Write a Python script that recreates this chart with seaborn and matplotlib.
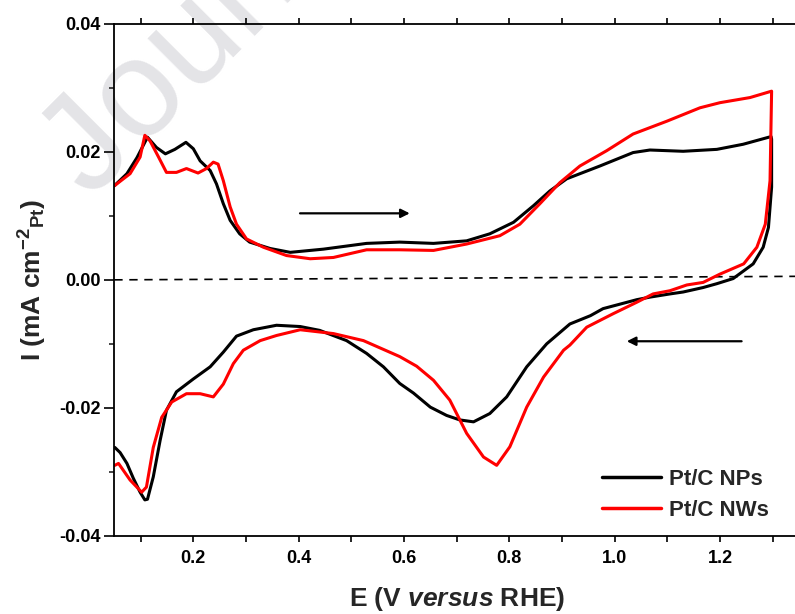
import numpy as np
import pandas as pd
import matplotlib
matplotlib.use("Agg")
import matplotlib.pyplot as plt
import seaborn as sns
from matplotlib.ticker import FixedLocator, FixedFormatter, MultipleLocator

# ---------------- data ----------------
np_fwd_E = [0.050, 0.074, 0.093, 0.113, 0.130, 0.147, 0.165, 0.186, 0.200, 0.213, 0.232, 0.244,
            0.257, 0.270, 0.288, 0.307, 0.346, 0.384, 0.447, 0.529, 0.592, 0.656, 0.719, 0.763,
            0.808, 0.846, 0.877, 0.909, 0.972, 1.035, 1.067, 1.130, 1.194, 1.244, 1.297]
np_fwd_I = [0.0147, 0.0166, 0.0191, 0.0223, 0.0207, 0.0197, 0.0204, 0.0215, 0.0205, 0.0186, 0.0171, 0.0150,
            0.0119, 0.0093, 0.0072, 0.0059, 0.0049, 0.0043, 0.0048, 0.0057, 0.0059, 0.0057, 0.0061, 0.0072,
            0.0090, 0.0116, 0.0139, 0.0158, 0.0178, 0.0199, 0.0203, 0.0201, 0.0204, 0.0212, 0.0224]
np_rev_E = [1.298, 1.298, 1.292, 1.282, 1.263, 1.225, 1.194, 1.168, 1.130, 1.105, 1.067, 1.042,
            0.978, 0.954, 0.915, 0.871, 0.833, 0.795, 0.763, 0.732, 0.706, 0.681, 0.650, 0.618,
            0.592, 0.561, 0.529, 0.491, 0.440, 0.403, 0.358, 0.314, 0.282, 0.257, 0.232, 0.200,
            0.168, 0.149, 0.137, 0.124, 0.113, 0.108, 0.099, 0.086, 0.074, 0.061, 0.051]
np_rev_I = [0.0220, 0.0145, 0.0082, 0.0051, 0.0025, 0.0002, -0.0006, -0.0012, -0.0019, -0.0022, -0.0027, -0.0031,
            -0.0045, -0.0056, -0.0069, -0.0100, -0.0136, -0.0183, -0.0209, -0.0222, -0.0219, -0.0212, -0.0199, -0.0177,
            -0.0162, -0.0136, -0.0115, -0.0095, -0.0079, -0.0073, -0.0071, -0.0078, -0.0088, -0.0113, -0.0136, -0.0155,
            -0.0175, -0.0204, -0.0251, -0.0308, -0.0343, -0.0344, -0.0332, -0.0310, -0.0287, -0.0270, -0.0262]

nw_fwd_E = [0.050, 0.080, 0.099, 0.108, 0.118, 0.134, 0.149, 0.168, 0.187, 0.209, 0.225, 0.238,
            0.247, 0.257, 0.270, 0.282, 0.301, 0.333, 0.377, 0.422, 0.466, 0.529, 0.592, 0.656,
            0.719, 0.782, 0.820, 0.858, 0.896, 0.934, 0.985, 1.035, 1.099, 1.162, 1.200, 1.257, 1.298]
nw_fwd_I = [0.0147, 0.0166, 0.0192, 0.0226, 0.0217, 0.0192, 0.0168, 0.0168, 0.0174, 0.0167, 0.0174, 0.0184,
            0.0181, 0.0155, 0.0114, 0.0087, 0.0064, 0.0051, 0.0038, 0.0033, 0.0035, 0.0047, 0.0047, 0.0046,
            0.0056, 0.0069, 0.0087, 0.0119, 0.0152, 0.0178, 0.0202, 0.0228, 0.0248, 0.0269, 0.0277, 0.0285, 0.0295]
nw_rev_E = [1.298, 1.295, 1.286, 1.270, 1.245, 1.200, 1.168, 1.137, 1.105, 1.073, 1.042, 0.997,
            0.947, 0.915, 0.903, 0.865, 0.833, 0.801, 0.776, 0.751, 0.719, 0.687, 0.656, 0.624,
            0.592, 0.523, 0.466, 0.403, 0.358, 0.327, 0.295, 0.276, 0.257, 0.238, 0.213, 0.187,
            0.159, 0.140, 0.124, 0.111, 0.102, 0.080, 0.058, 0.051]
nw_rev_I = [0.0295, 0.0155, 0.0087, 0.0051, 0.0025, 0.0009, -0.0004, -0.0008, -0.0017, -0.0022, -0.0035, -0.0053,
            -0.0074, -0.0102, -0.0110, -0.0152, -0.0199, -0.0261, -0.0290, -0.0277, -0.0240, -0.0188, -0.0157, -0.0135,
            -0.0120, -0.0095, -0.0084, -0.0078, -0.0087, -0.0095, -0.0110, -0.0131, -0.0163, -0.0183, -0.0178, -0.0178,
            -0.0191, -0.0215, -0.0262, -0.0324, -0.0332, -0.0313, -0.0287, -0.0290]

labels = ["Pt/C NPs", "Pt/C NWs"]
colors = ["#000000", "#ff0000"]

x_ticks = [0.2, 0.4, 0.6, 0.8, 1.0, 1.2]
x_ticklabels = ["0.2", "0.4", "0.6", "0.8", "1.0", "1.2"]
y_ticks = [-0.04, -0.02, 0.00, 0.02, 0.04]
y_ticklabels = ["-0.04", "-0.02", "0.00", "0.02", "0.04"]

baseline_E = [0.05, 1.35]
baseline_I = [0.0, 0.00055]

# ---------------- style ----------------
sns.set_style("ticks")
plt.rcParams["font.family"] = ["Liberation Sans", "DejaVu Sans"]
plt.rcParams["font.weight"] = "bold"
plt.rcParams["axes.labelweight"] = "bold"
plt.rcParams["axes.unicode_minus"] = False
plt.rcParams["mathtext.fontset"] = "custom"
plt.rcParams["mathtext.rm"] = "Liberation Sans:bold"
plt.rcParams["mathtext.it"] = "Liberation Sans:italic:bold"
plt.rcParams["mathtext.bf"] = "Liberation Sans:bold"
plt.rcParams["mathtext.default"] = "rm"

fig = plt.figure(figsize=(7.95, 6.14), dpi=100, facecolor="white")
ax = fig.add_axes([114.3 / 795, 1 - 535.7 / 614, (799 - 114.3) / 795, (535.7 - 24) / 614])
ax.patch.set_visible(False)

# watermark
fig.text(90 / 795, 1 - 200 / 614, "Journal Pre-proof", rotation=45, rotation_mode="anchor",
         ha="left", va="baseline", fontsize=100, fontweight="normal",
         color="#e4e4e7", zorder=-5, family=["Liberation Sans", "DejaVu Sans"])

rows = []
for lab, fE, fI, rE, rI in [(labels[0], np_fwd_E, np_fwd_I, np_rev_E, np_rev_I),
                            (labels[1], nw_fwd_E, nw_fwd_I, nw_rev_E, nw_rev_I)]:
    E = list(fE) + list(rE)
    I = list(fI) + list(rI)
    for k, (e, i) in enumerate(zip(E, I)):
        rows.append({"E": e, "I": i, "sample": lab, "order": k})
df = pd.DataFrame(rows)

sns.lineplot(data=df, x="E", y="I", hue="sample", hue_order=labels, palette=colors,
             sort=False, estimator=None, linewidth=2.2, ax=ax, legend=True)

ax.plot(baseline_E, baseline_I, color="black", linewidth=1.2, linestyle=(0, (5, 4)), zorder=1)

# arrows
ax.annotate("", xy=(0.611, 0.0104), xytext=(0.4026, 0.0104),
            arrowprops=dict(arrowstyle="-|>", color="black", lw=1.6, mutation_scale=13,
                            shrinkA=0, shrinkB=0))
ax.annotate("", xy=(1.023, -0.0096), xytext=(1.241, -0.0096),
            arrowprops=dict(arrowstyle="-|>", color="black", lw=1.6, mutation_scale=13,
                            shrinkA=0, shrinkB=0))

ax.set_xlim(0.05, 1.35)
ax.set_ylim(-0.04, 0.04)

ax.xaxis.set_major_locator(FixedLocator(x_ticks))
ax.xaxis.set_major_formatter(FixedFormatter(x_ticklabels))
ax.xaxis.set_minor_locator(MultipleLocator(0.1))
ax.yaxis.set_major_locator(FixedLocator(y_ticks))
ax.yaxis.set_major_formatter(FixedFormatter(y_ticklabels))
ax.yaxis.set_minor_locator(MultipleLocator(0.01))

for s in ["left", "bottom", "top"]:
    ax.spines[s].set_linewidth(1.3)
    ax.spines[s].set_color("black")
ax.spines["right"].set_visible(False)

ax.tick_params(axis="x", which="both", direction="out", length=4, width=1.2,
               top=True, bottom=True, labelsize=13, pad=6, colors="black")
ax.tick_params(axis="y", which="major", direction="out", length=7, width=1.2,
               labelsize=13, pad=3, colors="black")
ax.tick_params(axis="y", which="minor", direction="out", length=3.5, width=1.2)
for t in ax.get_xticklabels() + ax.get_yticklabels():
    t.set_fontweight("bold")

ax.set_xlabel(r"E (V $\mathit{versus}$ RHE)", fontsize=19, fontweight="bold", labelpad=13)
ax.set_ylabel(r"I (mA cm$^{-2}$$_{\mathrm{Pt}}$)", fontsize=19, fontweight="bold", labelpad=7)

leg = ax.legend(loc="upper left", bbox_to_anchor=(0.712, 0.130), frameon=False,
                fontsize=16, handlelength=2.65, handletextpad=0.36, labelspacing=0.45,
                borderaxespad=0, borderpad=0)
for line in leg.get_lines():
    line.set_linewidth(2.5)
for t in leg.get_texts():
    t.set_fontweight("bold")

fig.savefig("out.png", dpi=100, facecolor="white")
